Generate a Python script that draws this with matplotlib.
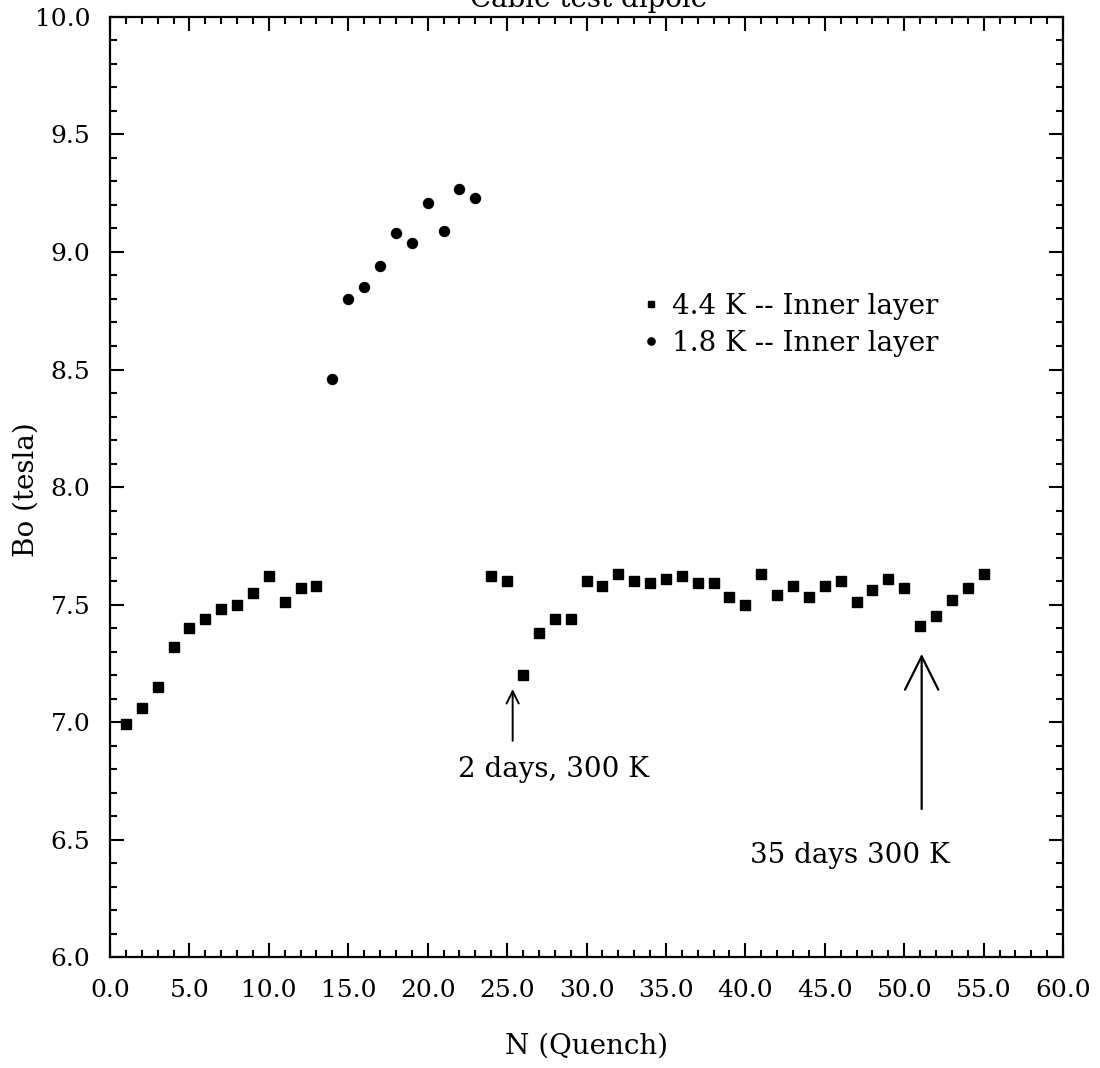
import numpy as np
import matplotlib
matplotlib.use("Agg")
import matplotlib.pyplot as plt
from matplotlib.ticker import MultipleLocator, FormatStrFormatter

# 4.4 K quenches (squares)
n_44 = [1, 2, 3, 4, 5, 6, 7, 8, 9, 10, 11, 12, 13,
        24, 25, 26, 27, 28, 29, 30, 31, 32, 33, 34, 35, 36, 37, 38, 39, 40,
        41, 42, 43, 44, 45, 46, 47, 48, 49, 50, 51, 52, 53, 54, 55]
bo_44 = [6.99, 7.06, 7.15, 7.32, 7.40, 7.44, 7.48, 7.50, 7.55, 7.62, 7.51, 7.57, 7.58,
         7.62, 7.60, 7.20, 7.38, 7.44, 7.44, 7.60, 7.58, 7.63, 7.60, 7.59, 7.61, 7.62,
         7.59, 7.59, 7.53, 7.50, 7.63, 7.54, 7.58, 7.53, 7.58, 7.60, 7.51, 7.56, 7.61,
         7.57, 7.41, 7.45, 7.52, 7.57, 7.63]

# 1.8 K quenches (circles)
n_18 = [14, 15, 16, 17, 18, 19, 20, 21, 22, 23]
bo_18 = [8.46, 8.80, 8.85, 8.94, 9.08, 9.04, 9.21, 9.09, 9.27, 9.23]

# annotations: (x, tip y, tail y)
arrow1 = (25.35, 7.14, 6.92)
arrow2 = (51.1, 7.29, 6.63)
note1 = "2 days, 300 K"
note2 = "35 days 300 K"

plt.rcParams['font.family'] = ['DejaVu Serif']
fs_tick = 18
fs = 20

fig = plt.figure(figsize=(11, 10.68), dpi=100)
ax = fig.add_axes([0.1, 0.1039, 0.8664, 0.8802])

ax.plot(n_44, bo_44, 's', color='black', ms=6.8, label='4.4 K -- Inner layer')
ax.plot(n_18, bo_18, 'o', color='black', ms=7.2, label='1.8 K -- Inner layer')

ax.set_xlim(0, 60)
ax.set_ylim(6.0, 10.0)
ax.xaxis.set_major_locator(MultipleLocator(5))
ax.xaxis.set_minor_locator(MultipleLocator(1))
ax.yaxis.set_major_locator(MultipleLocator(0.5))
ax.yaxis.set_minor_locator(MultipleLocator(0.1))
ax.xaxis.set_major_formatter(FormatStrFormatter('%.1f'))
ax.yaxis.set_major_formatter(FormatStrFormatter('%.1f'))

ax.tick_params(which='both', direction='in', top=True, right=True, width=1.5,
               labelsize=fs_tick)
ax.tick_params(which='major', length=10)
ax.tick_params(which='minor', length=5)
ax.tick_params(axis='x', which='major', pad=16)
ax.tick_params(axis='y', which='major', pad=14)
for sp in ax.spines.values():
    sp.set_linewidth(1.6)

ax.set_xlabel('N (Quench)', fontsize=fs)
ax.set_ylabel('Bo (tesla)', fontsize=fs)
ax.xaxis.set_label_coords(0.5, -0.08)
ax.yaxis.set_label_coords(-0.074, 0.497)

# title sits partly above the page edge, as in the scan
fig.text(0.535, 1 - 7 / 1068, 'Cable test dipole', ha='center', va='baseline',
         fontsize=fs)

# arrows
ax.annotate('', xy=(arrow1[0], arrow1[1]), xytext=(arrow1[0], arrow1[2]),
            arrowprops=dict(arrowstyle='->', lw=1.4, color='black',
                            mutation_scale=22, shrinkA=0, shrinkB=0))
ax.annotate('', xy=(arrow2[0], arrow2[1]), xytext=(arrow2[0], arrow2[2]),
            arrowprops=dict(arrowstyle='->', lw=1.6, color='black',
                            mutation_scale=60, shrinkA=0, shrinkB=0))
ax.text(27.95, 6.80, note1, ha='center', va='center', fontsize=fs)
ax.text(46.6, 6.43, note2, ha='center', va='center', fontsize=fs)

ax.legend(loc='upper left', bbox_to_anchor=(0.559, 0.7066), frameon=False,
          fontsize=fs, handlelength=0.6, handletextpad=0.45, markerscale=0.72,
          labelspacing=0.37, borderpad=0, borderaxespad=0)

fig.savefig('out.png', dpi=100)
